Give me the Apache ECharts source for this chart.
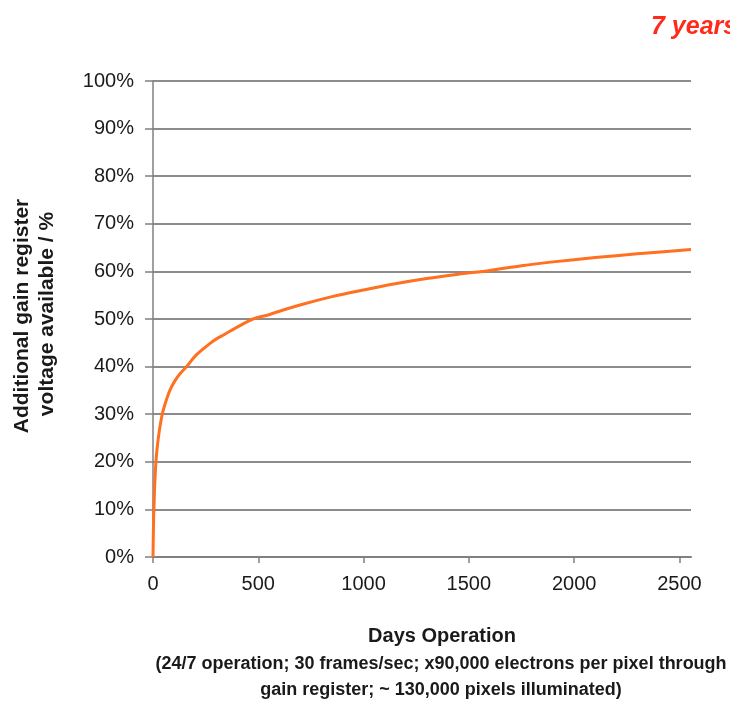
<!DOCTYPE html>
<html>
<head>
<meta charset="utf-8">
<script src="https://cdn.jsdelivr.net/npm/echarts@6/dist/echarts.min.js"></script>
<style>html,body{margin:0;padding:0;background:#fff}#c{width:730px;height:702px}</style>
</head>
<body>
<div id="c"></div>
<script>
// Data
const days = [0, 1, 3, 5, 8, 14, 20, 30, 44, 60, 80, 104, 130, 160, 200, 246, 290, 341, 400, 475, 550, 618, 720, 850, 1000, 1150, 1300, 1450, 1600, 1750, 1900, 2100, 2300, 2555];
const voltagePct = [0, 3, 8, 11, 15, 20, 23, 26.5, 30, 32.5, 35, 37, 38.6, 40, 42.2, 44, 45.5, 46.8, 48.3, 50, 50.9, 51.9, 53.2, 54.7, 56.1, 57.4, 58.5, 59.4, 60.2, 61.2, 62, 62.9, 63.7, 64.6];
const xTicks = [0, 500, 1000, 1500, 2000, 2500];
const titleText = '7 years';
const yTitle = ['Additional gain register', 'voltage available / %'];
const xTitle = 'Days Operation';
const note = ['(24/7 operation; 30 frames/sec; x90,000 electrons per pixel through', 'gain register; ~ 130,000 pixels illuminated)'];

const font = '"Liberation Sans", Arial, sans-serif';
const chart = echarts.init(document.getElementById('c'), null, {renderer: 'canvas'});
chart.setOption({
  animation: false,
  backgroundColor: '#fff',
  grid: {left: 153, right: 39, top: 81, bottom: 145, containLabel: false},
  xAxis: {
    type: 'value', min: 0, max: 2555,
    axisLine: {show: true, lineStyle: {color: '#808080', width: 2}},
    axisTick: {show: true, length: 6, lineStyle: {color: '#808080', width: 1.5}, customValues: xTicks},
    axisLabel: {margin: 17, fontSize: 20, color: '#1a1a1a', fontFamily: font, customValues: xTicks, formatter: v => String(v)},
    splitLine: {show: false}
  },
  yAxis: {
    type: 'value', min: 0, max: 100, interval: 10,
    axisLine: {show: true, lineStyle: {color: '#808080', width: 1.5}},
    axisTick: {show: true, length: 8, lineStyle: {color: '#808080', width: 1.5}},
    axisLabel: {margin: 19, fontSize: 20, color: '#1a1a1a', fontFamily: font, formatter: v => v + '%'},
    splitLine: {show: true, lineStyle: {color: '#8c8c8c', width: 2}}
  },
  series: [{
    type: 'line',
    data: days.map((d, i) => [d, voltagePct[i]]),
    smooth: 0.3,
    showSymbol: false,
    lineStyle: {color: '#ff7020', width: 3},
    z: 5
  }],
  graphic: [
    {type: 'text', x: 651, y: 27, style: {text: titleText, fill: '#ff2a1a', verticalAlign: 'middle', font: 'italic bold 25px ' + font}},
    {type: 'text', x: 22, y: 316, rotation: Math.PI / 2, style: {text: yTitle[0], fill: '#1a1a1a', align: 'center', verticalAlign: 'middle', font: 'bold 21px ' + font}},
    {type: 'text', x: 47, y: 314, rotation: Math.PI / 2, style: {text: yTitle[1], fill: '#1a1a1a', align: 'center', verticalAlign: 'middle', font: 'bold 21px ' + font}},
    {type: 'text', x: 442, y: 636, style: {text: xTitle, fill: '#1a1a1a', align: 'center', verticalAlign: 'middle', font: 'bold 20px ' + font}},
    {type: 'text', x: 441, y: 664, style: {text: note[0], fill: '#1a1a1a', align: 'center', verticalAlign: 'middle', font: 'bold 18px ' + font}},
    {type: 'text', x: 441, y: 690, style: {text: note[1], fill: '#1a1a1a', align: 'center', verticalAlign: 'middle', font: 'bold 18px ' + font}}
  ]
});
</script>
</body>
</html>
